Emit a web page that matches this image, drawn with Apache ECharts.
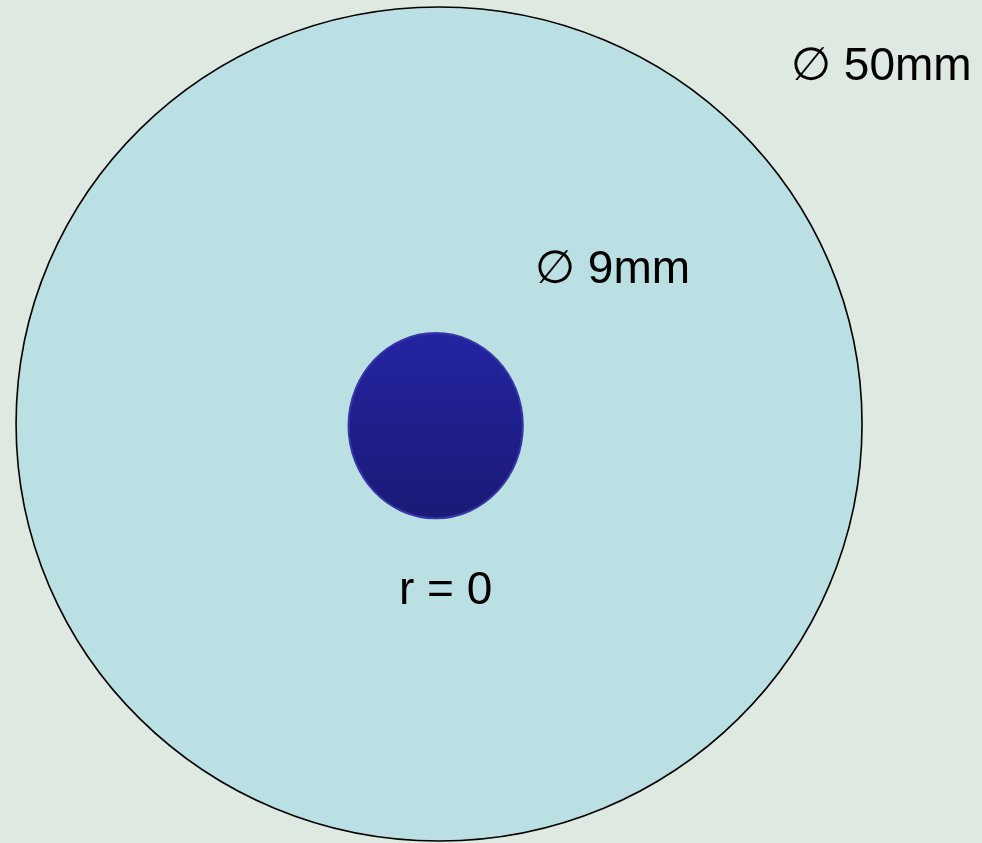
<!DOCTYPE html>
<html>
<head>
<meta charset="utf-8">
<script src="https://cdn.jsdelivr.net/npm/echarts@6/dist/echarts.min.js"></script>
<style>
  html, body { margin: 0; padding: 0; background: #dde9e1; }
  #chart { width: 982px; height: 843px; }
</style>
</head>
<body>
<div id="chart"></div>
<script>
// Shapes (units: mm in the drawing's own coordinate system; inner disc drawn not to scale)
const shapeNames = ['outer', 'inner'];
const centerX = [0, -0.2];
const centerY = [0, -0.1];
const drawnWidth = [50, 10.3];
const drawnHeight = [50, 11.1];

// Annotations
const labelTexts = ['\u2205 50mm', '\u2205 9mm', 'r = 0'];

// Axis extents (mm)
const xMin = -25.95, xMax = 32.09;
const yMin = -25.12, yMax = 25.42;

const chart = echarts.init(document.getElementById('chart'), null, { renderer: 'canvas' });

const data = shapeNames.map((n, i) => [centerX[i], centerY[i], drawnWidth[i], drawnHeight[i], i]);

const fills = [
  '#bae0e3',
  new echarts.graphic.LinearGradient(0, 0, 0, 1, [
    { offset: 0, color: '#2424a3' },
    { offset: 1, color: '#1a1a76' }
  ])
];
const strokes = ['#000000', '#3636a6'];
const strokeWidths = [1.6, 2];

const fontFamily = '"Liberation Sans", Arial, "DejaVu Sans", sans-serif';

chart.setOption({
  backgroundColor: '#dde9e1',
  animation: false,
  grid: { left: 0, right: 0, top: 0, bottom: 0 },
  xAxis: { type: 'value', min: xMin, max: xMax, show: false },
  yAxis: { type: 'value', min: yMin, max: yMax, show: false },
  series: [{
    type: 'custom',
    coordinateSystem: 'cartesian2d',
    z: 1,
    data: data,
    renderItem: function (params, api) {
      const c = api.coord([api.value(0), api.value(1)]);
      const s = api.size([api.value(2), api.value(3)]);
      const i = api.value(4);
      return {
        type: 'ellipse',
        shape: { cx: c[0], cy: c[1], rx: s[0] / 2, ry: s[1] / 2 },
        style: { fill: fills[i], stroke: strokes[i], lineWidth: strokeWidths[i] }
      };
    }
  }],
  graphic: {
    elements: [
      { type: 'text', z: 100, left: 791, top: 44, style: { text: labelTexts[0], font: '46px ' + fontFamily, fill: '#000' } },
      { type: 'text', z: 100, left: 535, top: 247, style: { text: labelTexts[1], font: '46px ' + fontFamily, fill: '#000' } },
      { type: 'text', z: 100, left: 399, top: 568, style: { text: labelTexts[2], font: '46px ' + fontFamily, fill: '#000' } }
    ]
  }
});
</script>
</body>
</html>
